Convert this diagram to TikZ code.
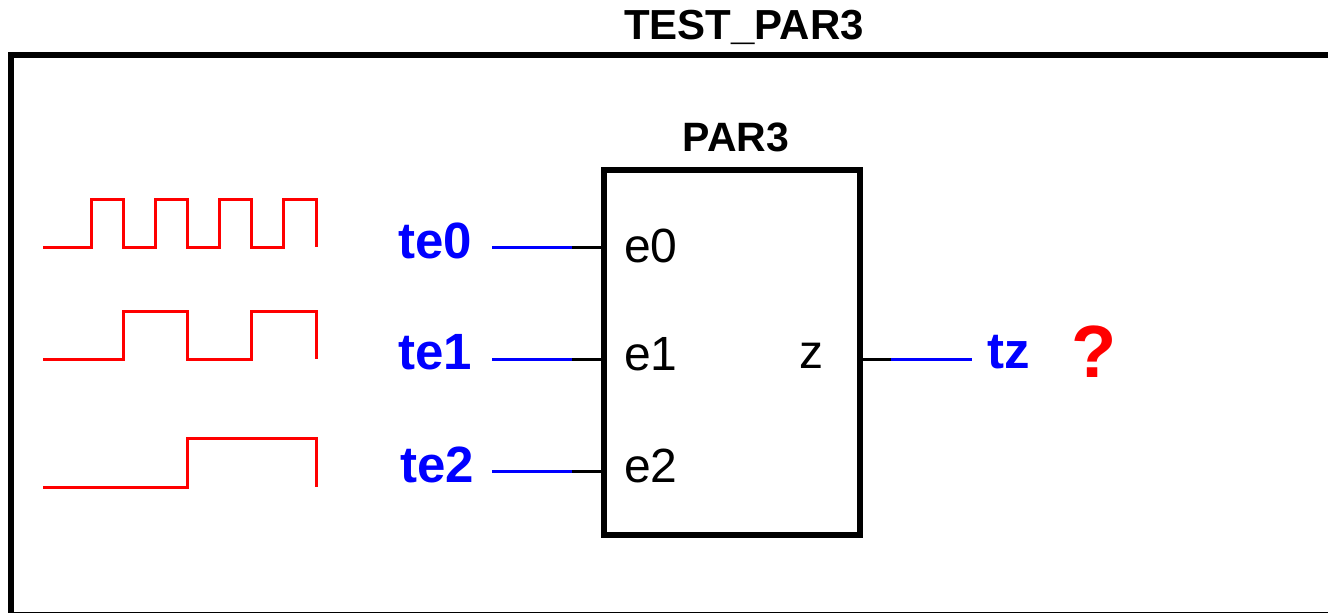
\documentclass[tikz,border=0pt]{standalone}
\usepackage{fontspec}
\setmainfont{Liberation Sans}
\usetikzlibrary{positioning}

\tikzset{
  sig/.style={red, line width=3pt},
  wire/.style={black, line width=3pt},
  net/.style={blue, line width=3pt},
  pinlbl/.style={font=\fontsize{48}{52}\selectfont, inner sep=0pt},
  netlbl/.style={blue, font=\bfseries\fontsize{51}{56}\selectfont, inner sep=0pt},
  title/.style={font=\bfseries\fontsize{42}{48}\selectfont, inner sep=0pt},
}

\begin{document}
\begin{tikzpicture}[x=1pt,y=-1pt]
\useasboundingbox (0,0) rectangle (1328,613);

% outer frame, cut by the page
\begin{scope}
\clip (0,0) rectangle (1328,613);
\draw[line width=6pt] (1340,55) -- (11,55) -- (11,615) -- (1340,615);
\end{scope}
\node[title, anchor=base] (top) at (744,39) {TEST\_PAR3};

% the block
\node[draw, line width=6pt, minimum width=256pt, minimum height=365pt, inner sep=0pt] (par3) at (732,352.5) {};
\node[title, font=\bfseries\fontsize{41}{46}\selectfont, anchor=base] (name) at (736,151) {PAR3};

\node[pinlbl, anchor=base west] (e0) at (624,262) {e0};
\node[pinlbl, anchor=base west] (e1) at (624,370) {e1};
\node[pinlbl, anchor=base west] (e2) at (624,482) {e2};
\node[pinlbl, anchor=base west] (z) at (799,368) {z};

% input stimuli
\draw[sig] (43,247) -- (91,247) -- (91,199) -- (123,199) -- (123,247) -- (155,247) -- (155,199) -- (187,199) -- (187,247) -- (219,247) -- (219,199) -- (251,199) -- (251,247) -- (283,247) -- (283,199) -- (316,199) -- (316,247);
\draw[sig] (43,359) -- (123,359) -- (123,311) -- (187,311) -- (187,359) -- (251,359) -- (251,311) -- (316,311) -- (316,359);
\draw[sig] (43,487) -- (187,487) -- (187,438) -- (316,438) -- (316,487);

% inputs
\node[netlbl, anchor=base east] (te0) at (472,258) {te0};
\node[netlbl, anchor=base east] (te1) at (472,369) {te1};
\node[netlbl, anchor=base east] (te2) at (474,482) {te2};
\coordinate (w0) at (492,247);
\coordinate (w1) at (492,359);
\coordinate (w2) at (492,471);
\coordinate (k0) at (572,247);
\coordinate (k1) at (572,359);
\coordinate (k2) at (572,471);
\coordinate (p0) at (par3.west |- k0);
\coordinate (p1) at (par3.west |- k1);
\coordinate (p2) at (par3.west |- k2);
\draw[net] (w0) -- (k0);
\draw[net] (w1) -- (k1);
\draw[net] (w2) -- (k2);
\draw[wire] (k0) -- (p0);
\draw[wire] (k1) -- (p1);
\draw[wire] (k2) -- (p2);

% output
\coordinate (kz) at (891,359);
\coordinate (wz) at (972,359);
\coordinate (pz) at (par3.east |- kz);
\draw[wire] (pz) -- (kz);
\draw[net] (kz) -- (wz);
\node[netlbl, anchor=base west] (tz) at (987,368) {tz};
\node[red, font=\bfseries\fontsize{74}{80}\selectfont, inner sep=0pt, anchor=base west] (q) at (1071,377) {?};
\end{tikzpicture}
\end{document}
